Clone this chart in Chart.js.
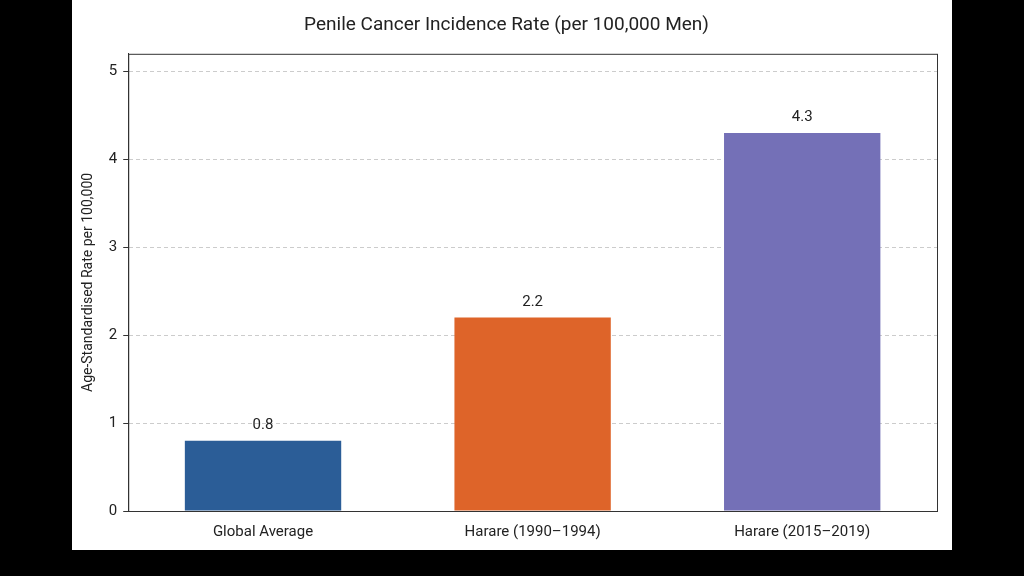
<!DOCTYPE html>
<html><head><meta charset="utf-8">
<script src="https://cdn.jsdelivr.net/npm/chart.js@4.4.0/dist/chart.umd.min.js"></script>
<style>
html,body{margin:0;padding:0;background:#000;width:1024px;height:576px;overflow:hidden}
#panel{position:absolute;left:72px;top:0;width:880px;height:550px;background:#fff}
</style></head><body>
<div id="panel"><canvas id="c" width="880" height="550"></canvas></div>
<script>
const categories = ["Global Average", "Harare (1990\u20131994)", "Harare (2015\u20132019)"];
const values = [0.8, 2.2, 4.3];
const colors = ["#2b5d97", "#de6429", "#7470b7"];
const yTicks = [0,1,2,3,4,5];
const font = "Roboto, 'DejaVu Sans', sans-serif";

const frame = {
  id: 'frame',
  afterDraw(chart){
    const {ctx, chartArea:a} = chart;
    ctx.save(); ctx.strokeStyle = '#333'; ctx.lineWidth = 1; ctx.setLineDash([]);
    ctx.strokeRect(a.left+0.5, a.top+0.5, a.right-a.left, a.bottom-a.top);
    ctx.fillStyle = '#222'; ctx.font = '15px ' + font; ctx.textAlign = 'center'; ctx.textBaseline = 'bottom';
    const meta = chart.getDatasetMeta(0);
    meta.data.forEach((b,i)=>{ ctx.fillText(values[i].toFixed(1), b.x, b.y - 8); });
    ctx.restore();
  }
};

new Chart(document.getElementById('c'), {
  type: 'bar',
  data: { labels: categories, datasets: [{ data: values, backgroundColor: colors, categoryPercentage: 1, barPercentage: 0.58 }] },
  options: {
    responsive: false, animation: false,
    layout: { padding: { left: 4, right: 15, top: 0, bottom: 5 } },
    plugins: {
      legend: { display: false }, tooltip: { enabled: false },
      title: { display: true, text: "Penile Cancer Incidence Rate (per 100,000 Men)", color: '#222',
        font: { family: font, size: 19, weight: 'normal' }, padding: { top: 14, bottom: 17 } }
    },
    scales: {
      x: { grid: { display: false }, border: { color: '#333' },
        ticks: { color: '#222', font: { family: font, size: 15 }, padding: 4 } },
      y: { min: 0, max: 5.2, afterBuildTicks: ax => { ax.ticks = yTicks.map(v => ({ value: v })); },
        grid: { color: '#ccc', drawTicks: true, tickLength: 5, tickColor: '#333' }, border: { color: '#333', dash: [4,3] },
        ticks: { color: '#222', font: { family: font, size: 15 }, padding: 6 },
        title: { display: true, text: "Age-Standardised Rate per 100,000", color: '#222', font: { family: font, size: 14 }, padding: { bottom: 6 } } }
    }
  },
  plugins: [frame]
});
</script></body></html>
